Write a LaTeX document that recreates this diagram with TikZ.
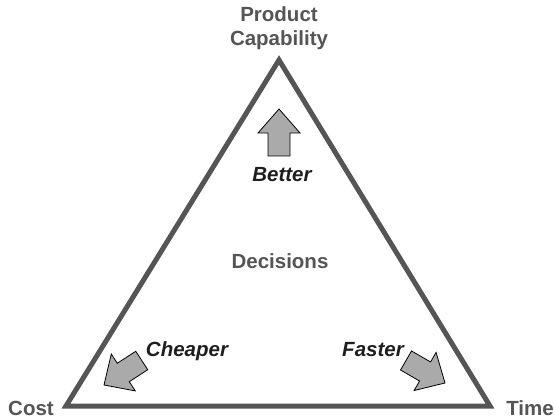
\documentclass[tikz,border=0pt]{standalone}
\usepackage{fontspec}
\setmainfont{Liberation Sans}
\begin{document}
\begin{tikzpicture}[x=1pt,y=-1pt,
  corner/.style={font=\fontsize{20.5}{24}\selectfont\bfseries, text=labgray, inner sep=0pt, anchor=base},
  effect/.style={font=\fontsize{20.5}{24}\selectfont\bfseries\itshape, text=txtdark, inner sep=0pt, anchor=base},
  blockarrow/.style={draw=black, fill=arrowgray, line width=0.8pt, line join=miter},
  side/.style={draw=edgegray, line width=5pt, line join=miter}]
\definecolor{labgray}{HTML}{555555}
\definecolor{txtdark}{HTML}{1E1E1E}
\definecolor{edgegray}{HTML}{555555}
\definecolor{arrowgray}{HTML}{AAAAAA}
\useasboundingbox (0,0) rectangle (554,419);
\coordinate (top) at (279,60);
\coordinate (left) at (66,406);
\coordinate (right) at (490,406);
\draw[side] (top) -- (left) -- (right) -- cycle;
\node[corner, align=center, anchor=north] (pc) at (279,6) {Product\\Capability};
\node[corner] (cost) at (31,415) {Cost};
\node[corner] (time) at (530,415) {Time};
\node[corner] (dec) at (280,269) {Decisions};
\node[effect] (better) at (282,182) {Better};
\node[effect] (cheaper) at (187,357) {Cheaper};
\node[effect] (faster) at (373,357) {Faster};
\draw[blockarrow, shift={(279,109)}, rotate=90]
  (0,0) -- (-24,21) -- (-24,11) -- (-47,11) -- (-47,-11) -- (-24,-11) -- (-24,-21) -- cycle;
\draw[blockarrow, shift={(104,385)}, rotate=213]
  (0,0) -- (-23,22) -- (-23,11) -- (-45,11) -- (-45,-11) -- (-23,-11) -- (-23,-22) -- cycle;
\draw[blockarrow, shift={(445,383)}, rotate=-30]
  (0,0) -- (-23,22) -- (-23,11) -- (-45,11) -- (-45,-11) -- (-23,-11) -- (-23,-22) -- cycle;
\end{tikzpicture}
\end{document}
